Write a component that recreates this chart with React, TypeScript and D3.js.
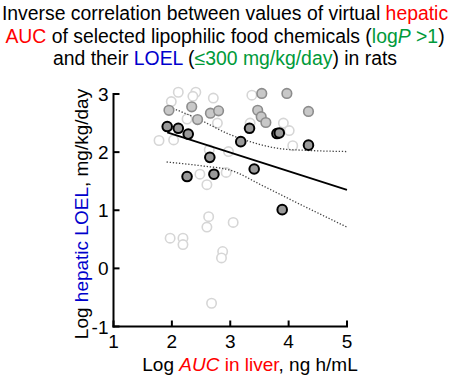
import React from 'react';
import * as d3 from 'd3';

// Light open circles
const lightX = [2.11, 2.41, 2.36, 2.71, 1.99, 2.26, 2.78, 1.78, 2.03, 2.97, 2.64, 2.48, 2.60, 2.93, 2.63, 2.60, 3.05, 1.97, 2.19, 2.19, 2.87, 2.85, 2.68, 3.37, 3.34, 3.91, 4.01, 4.07];
const lightY = [3.03, 3.03, 2.96, 2.93, 2.87, 2.57, 2.50, 2.20, 2.21, 2.01, 2.04, 1.62, 1.44, 1.65, 0.89, 0.71, 0.79, 0.52, 0.52, 0.41, 0.29, 0.18, -0.60, 2.98, 2.50, 2.50, 2.37, 2.11];
// Medium gray filled circles
const midX = [1.95, 2.34, 2.66, 2.80, 2.44, 3.54, 3.97, 3.47, 3.53, 3.61, 4.34];
const midY = [2.72, 2.78, 2.67, 2.71, 2.56, 3.01, 3.01, 2.72, 2.61, 2.51, 2.70];
// Dark filled circles
const darkX = [1.92, 2.11, 2.28, 2.65, 2.72, 2.26, 3.18, 3.33, 3.80, 3.84, 4.34, 3.41, 3.89];
const darkY = [2.44, 2.41, 2.31, 1.91, 1.62, 1.58, 2.18, 2.41, 2.32, 2.33, 2.12, 1.71, 1.01];
// Regression line and confidence bands
const fitX = [1.92, 5.0];
const fitY = [2.34, 1.35];
const upperX = [1.92, 2.43, 3.0, 3.34, 3.85, 4.31, 5.0];
const upperY = [2.79, 2.58, 2.30, 2.18, 2.06, 2.03, 2.01];
const lowerX = [1.91, 2.54, 3.0, 3.56, 4.14, 5.0];
const lowerY = [1.83, 1.76, 1.69, 1.42, 1.13, 0.71];

const xTicks = [1, 2, 3, 4, 5];
const yTicks = [-1, 0, 1, 2, 3];

const W = 450, H = 379;
const FONT = '"Liberation Sans", Arial, sans-serif';
const RED = '#ff0000', BLUE = '#0000cc', GREEN = '#009a3a';

export default function App() {
  const x = d3.scaleLinear().domain([1, 5]).range([113.5, 347]);
  const y = d3.scaleLinear().domain([-1, 3]).range([326.5, 94]);
  const pts = (xs: number[], ys: number[]) => xs.map((v, i) => [v, ys[i]] as [number, number]);
  const line = d3.line<[number, number]>().x(d => x(d[0])).y(d => y(d[1])).curve(d3.curveMonotoneX);
  const straight = d3.line<[number, number]>().x(d => x(d[0])).y(d => y(d[1]));
  return (
    <svg width={W} height={H} style={{ position: 'absolute', left: 0, top: 0 }} fontFamily={FONT}>
      <rect width={W} height={H} fill="#fff" />
      <text x={225} y={20} textAnchor="middle" fontSize={19.4}>
        Inverse correlation between values of virtual <tspan fill={RED}>hepatic</tspan>
      </text>
      <text x={225} y={42.5} textAnchor="middle" fontSize={19.4}>
        <tspan fill={RED}>AUC</tspan> of selected lipophilic food chemicals (<tspan fill={GREEN}>log</tspan><tspan fill={GREEN} fontStyle="italic">P</tspan><tspan fill={GREEN}> &gt;1</tspan>)
      </text>
      <text x={225} y={65} textAnchor="middle" fontSize={19.4}>
        and their <tspan fill={BLUE}>LOEL</tspan> (<tspan fill={GREEN}>≤300 mg/kg/day</tspan>) in rats
      </text>

      {pts(lightX, lightY).map((d, i) => (
        <circle key={'l' + i} cx={x(d[0])} cy={y(d[1])} r={4.7} fill="#fff" stroke="#d6d6d6" strokeWidth={1.6} />
      ))}

      <path d={line(pts(upperX, upperY)) || ''} fill="none" stroke="#444" strokeWidth={1.3} strokeDasharray="1.3,1.8" />
      <path d={line(pts(lowerX, lowerY)) || ''} fill="none" stroke="#444" strokeWidth={1.3} strokeDasharray="1.3,1.8" />
      <path d={straight(pts(fitX, fitY)) || ''} fill="none" stroke="#000" strokeWidth={1.8} />

      {pts(midX, midY).map((d, i) => (
        <circle key={'m' + i} cx={x(d[0])} cy={y(d[1])} r={4.8} fill="#c8c8c8" stroke="#8c8c8c" strokeWidth={1.6} />
      ))}
      {pts(darkX, darkY).map((d, i) => (
        <circle key={'d' + i} cx={x(d[0])} cy={y(d[1])} r={4.8} fill="#9a9a9a" stroke="#000" strokeWidth={2} />
      ))}

      {/* axes */}
      <line x1={x(1)} x2={x(1)} y1={y(3) - 1} y2={y(-1) + 1} stroke="#000" strokeWidth={2} />
      <line x1={x(1) - 1} x2={x(5) + 1} y1={y(-1)} y2={y(-1)} stroke="#000" strokeWidth={2} />
      {yTicks.map(t => (
        <g key={'yt' + t}>
          <line x1={x(1)} x2={x(1) + 6} y1={y(t)} y2={y(t)} stroke="#000" strokeWidth={2} />
          <text x={x(1) - 5} y={y(t) + 7} textAnchor="end" fontSize={19}>{t}</text>
        </g>
      ))}
      {xTicks.map(t => (
        <g key={'xt' + t}>
          <line x1={x(t)} x2={x(t)} y1={y(-1)} y2={y(-1) - 6} stroke="#000" strokeWidth={2} />
          <text x={x(t)} y={y(-1) + 21} textAnchor="middle" fontSize={19}>{t}</text>
        </g>
      ))}

      <text x={250} y={371} textAnchor="middle" fontSize={19}>
        Log <tspan fill={RED} fontStyle="italic">AUC</tspan><tspan fill={RED}> in liver</tspan>, ng h/mL
      </text>
      <text transform={`translate(88,214) rotate(-90)`} textAnchor="middle" fontSize={19}>
        Log <tspan fill={BLUE}>hepatic LOEL</tspan>, mg/kg/day
      </text>
    </svg>
  );
}
